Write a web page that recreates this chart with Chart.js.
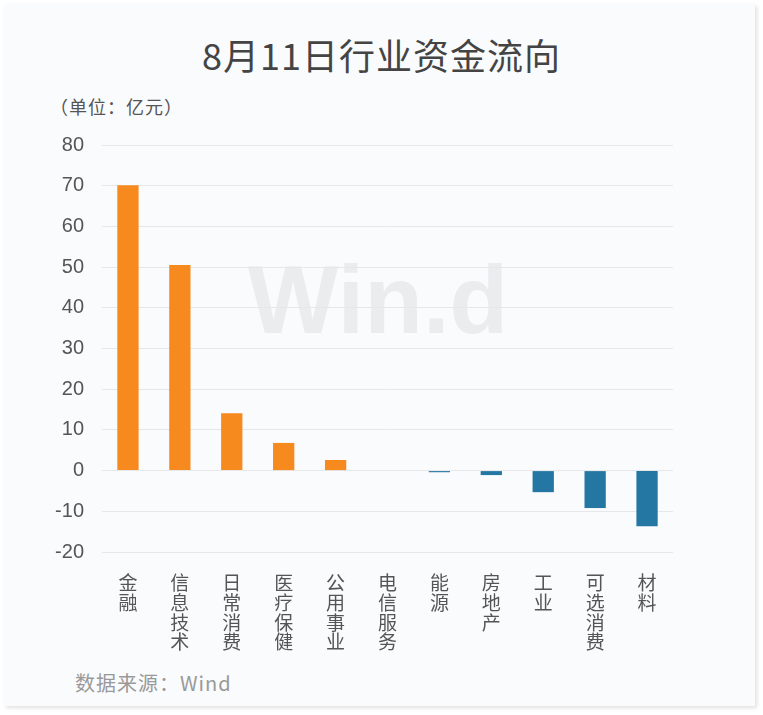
<!DOCTYPE html>
<html>
<head>
<meta charset="utf-8">
<script src="https://cdn.jsdelivr.net/npm/chart.js@4"></script>
<style>
  html, body { margin: 0; padding: 0; background: #fff; }
  body { width: 763px; height: 715px; position: relative; overflow: hidden;
         font-family: "Noto Sans CJK SC", "Noto Sans", sans-serif; }
  .card { position: absolute; left: 4px; top: 4px; width: 751px; height: 702px;
          background: #fafbfd; box-shadow: 2px 2px 4px rgba(0,0,0,0.12); }
  .title { position: absolute; left: 0; width: 763px; top: 29px; text-align: center;
           font-size: 36px; color: #444; letter-spacing: 1px; line-height: 50px; }
  .unit { position: absolute; left: 50px; top: 93px; font-size: 18px; color: #555; letter-spacing: 1px; }
  .source { position: absolute; left: 75px; top: 668px; font-size: 20px; color: #999; letter-spacing: 1px; }
  canvas { position: absolute; left: 0; top: 0; }
</style>
</head>
<body>
<div class="card"></div>
<div class="title">8月11日行业资金流向</div>
<div class="unit">（单位：亿元）</div>
<div class="source">数据来源：Wind</div>
<div style="position:absolute;left:0;top:0;width:763px;height:715px;">
  <canvas id="flowChart"></canvas>
</div>
<script>
// sectors, net flow (亿元)
const sectors = ["金融", "信息技术", "日常消费", "医疗保健", "公用事业", "电信服务", "能源", "房地产", "工业", "可选消费", "材料"];
const flows = [70.1, 50.5, 14.1, 6.8, 2.6, 0, -0.4, -1.1, -5.3, -9.2, -13.7];
const yTicks = [80, 70, 60, 50, 40, 30, 20, 10, 0, -10, -20];

const orange = "#f68a1e";
const blue = "#2377a2";

// watermark behind the grid
const watermark = {
    id: "watermark",
    beforeDraw(chart) {
        const ctx = chart.ctx;
        ctx.save();
        ctx.font = "bold 96px 'Liberation Sans'";
        ctx.fillStyle = "#ebecee";
        ctx.textAlign = "center";
        ctx.textBaseline = "alphabetic";
        ctx.fillText("Win.d", 378, 333);
        ctx.restore();
    }
};

new Chart(document.getElementById("flowChart"), {
    type: "bar",
    data: {
        labels: sectors.map(s => s.split("")),
        datasets: [{
            data: flows,
            backgroundColor: flows.map(v => v >= 0 ? orange : blue),
            borderWidth: 0,
            categoryPercentage: 1,
            barPercentage: 0.41
        }]
    },
    options: {
        responsive: true,
        maintainAspectRatio: false,
        animation: false,
        layout: {
            padding: { left: 0, right: 90, top: 145, bottom: 0 }
        },
        scales: {
            x: {
                grid: { display: false },
                border: { display: false },
                ticks: {
                    color: "#555",
                    font: { size: 19, family: "'Noto Sans CJK SC'", lineHeight: 1.04 },
                    padding: 13,
                    maxRotation: 0,
                    autoSkip: false
                },
                afterFit(scale) { scale.height = 163; }
            },
            y: {
                min: -20,
                max: 80,
                grid: { color: "#e6e7e9", lineWidth: 1, drawTicks: false },
                border: { display: false },
                afterBuildTicks(scale) { scale.ticks = yTicks.map(v => ({ value: v })); },
                ticks: {
                    color: "#555",
                    font: { size: 20, family: "'Liberation Sans'" },
                    padding: 18
                },
                afterFit(scale) { scale.width = 102; }
            }
        },
        plugins: {
            legend: { display: false },
            tooltip: { enabled: false }
        }
    },
    plugins: [watermark]
});
</script>
</body>
</html>
